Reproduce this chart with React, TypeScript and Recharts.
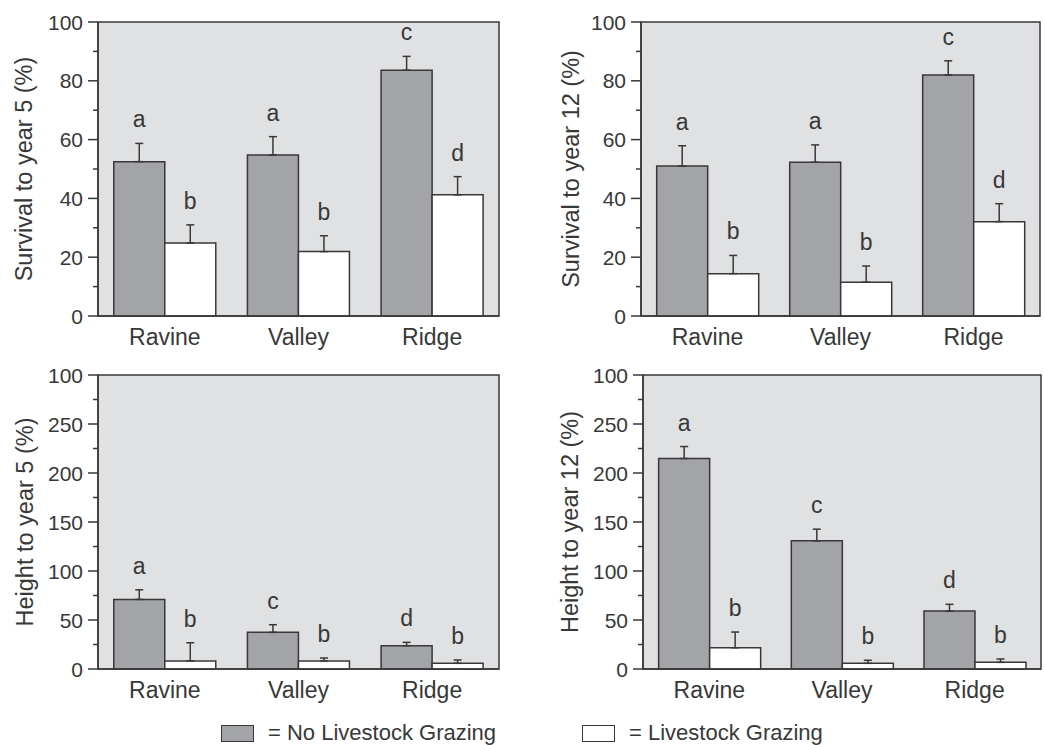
import {
  BarChart,
  Bar,
  XAxis,
  YAxis,
  ErrorBar,
  LabelList,
  CartesianGrid,
  ReferenceArea,
} from "recharts";

const FONT = '"Liberation Sans", Arial, Helvetica, sans-serif';
const INK = "#383838";
const BAR_GRAY = "#a3a4a7";
const PLOT_BG = "#e0e1e3";

const sites = ["Ravine", "Valley", "Ridge"];

// survival to year 5
const surv5NoGraze = [52.5, 54.8, 83.6];
const surv5NoGrazeErr = [6.2, 6.2, 4.7];
const surv5Graze = [24.8, 21.9, 41.2];
const surv5GrazeErr = [6.2, 5.4, 6.2];
const surv5NoGrazeLetters = ["a", "a", "c"];
const surv5GrazeLetters = ["b", "b", "d"];

// survival to year 12
const surv12NoGraze = [51.0, 52.3, 82.0];
const surv12NoGrazeErr = [6.9, 5.9, 4.8];
const surv12Graze = [14.4, 11.5, 32.1];
const surv12GrazeErr = [6.2, 5.5, 6.1];
const surv12NoGrazeLetters = ["a", "a", "c"];
const surv12GrazeLetters = ["b", "b", "d"];

// height to year 5
const height5NoGraze = [71.0, 37.4, 23.8];
const height5NoGrazeErr = [9.8, 7.8, 3.4];
const height5Graze = [8.2, 8.2, 5.8];
const height5GrazeErr = [18.6, 3.0, 3.4];
const height5NoGrazeLetters = ["a", "c", "d"];
const height5GrazeLetters = ["b", "b", "b"];

// height to year 12
const height12NoGraze = [214.8, 130.8, 59.1];
const height12NoGrazeErr = [12.2, 11.9, 6.9];
const height12Graze = [21.7, 5.8, 6.8];
const height12GrazeErr = [16.0, 3.1, 3.4];
const height12NoGrazeLetters = ["a", "c", "d"];
const height12GrazeLetters = ["b", "b", "b"];

const survivalTicks = [0, 10, 20, 30, 40, 50, 60, 70, 80, 90, 100];
const survivalTickLabels = ["0", "", "20", "", "40", "", "60", "", "80", "", "100"];
const heightTicks = [0, 25, 50, 75, 100, 125, 150, 175, 200, 225, 250, 275, 300];
const heightTickLabels = ["0", "", "50", "", "100", "", "150", "", "200", "", "250", "", "100"];

const buildRows = (noGraze: number[], noGrazeErr: number[], graze: number[], grazeErr: number[]) =>
  sites.map((site, i) => ({
    site,
    noGraze: noGraze[i],
    noGrazeErr: [0, noGrazeErr[i]],
    graze: graze[i],
    grazeErr: [0, grazeErr[i]],
  }));

const makeLetter = (letters: string[], errs: number[]) => (props: any) => {
  const { x, y, width, height, value, index } = props;
  if (!value) return null;
  const pxPerUnit = height / value;
  const top = y - errs[index] * pxPerUnit;
  return (
    <text
      x={x + width / 2}
      y={top - 16}
      textAnchor="middle"
      fontSize={23}
      fill={INK}
      fontFamily={FONT}
    >
      {letters[index]}
    </text>
  );
};

const makeYTick = (ticks: number[], labels: string[]) => (props: any) => {
  const { x, y, payload } = props;
  const i = ticks.indexOf(payload.value);
  const label = labels[i];
  const axisX = x + 15;
  const major = label !== "";
  return (
    <g>
      <line
        x1={axisX - (major ? 10 : 5)}
        x2={axisX}
        y1={y}
        y2={y}
        stroke={INK}
        strokeWidth={1.5}
      />
      {major && (
        <text
          x={x}
          y={y}
          textAnchor="end"
          dominantBaseline="central"
          fontSize={21}
          fill={INK}
          fontFamily={FONT}
        >
          {label}
        </text>
      )}
    </g>
  );
};

const YTitle = (props: any) => {
  const { viewBox, text } = props;
  const cx = viewBox.x;
  const cy = viewBox.y + viewBox.height / 2;
  return (
    <text
      x={cx}
      y={cy}
      transform={`rotate(-90, ${cx}, ${cy})`}
      textAnchor="middle"
      dominantBaseline="central"
      fontSize={23.5}
      fill={INK}
      fontFamily={FONT}
    >
      {text}
    </text>
  );
};

interface PanelProps {
  left: number;
  top: number;
  width: number;
  height: number;
  margin: { top: number; right: number; bottom: number; left: number };
  yWidth: number;
  title: string;
  yMax: number;
  ticks: number[];
  tickLabels: string[];
  rows: any[];
  noGrazeErr: number[];
  grazeErr: number[];
  noGrazeLetters: string[];
  grazeLetters: string[];
}

function Panel(p: PanelProps) {
  return (
    <div style={{ position: "absolute", left: p.left, top: p.top }}>
      <BarChart
        width={p.width}
        height={p.height}
        data={p.rows}
        margin={p.margin}
        barCategoryGap="11.8%"
        barGap={0}
      >
        <CartesianGrid horizontal={false} vertical={false} fill={PLOT_BG} stroke="none" />
        <XAxis
          dataKey="site"
          height={30}
          tickLine={false}
          tickSize={0}
          tickMargin={13}
          axisLine={{ stroke: INK, strokeWidth: 1.5 }}
          tick={{ fontSize: 23, fill: INK, fontFamily: FONT }}
        />
        <YAxis
          width={p.yWidth}
          domain={[0, p.yMax]}
          ticks={p.ticks}
          interval={0}
          tickLine={false}
          tickSize={10}
          tickMargin={5}
          axisLine={{ stroke: INK, strokeWidth: 1.5 }}
          tick={makeYTick(p.ticks, p.tickLabels)}
          label={<YTitle text={p.title} />}
        />
        <ReferenceArea
          y1={0}
          y2={p.yMax}
          fill="none"
          stroke={INK}
          strokeWidth={1.5}
          ifOverflow="visible"
        />
        <Bar
          dataKey="noGraze"
          fill={BAR_GRAY}
          stroke={INK}
          strokeWidth={1.5}
          isAnimationActive={false}
        >
          <ErrorBar dataKey="noGrazeErr" width={4} stroke={INK} strokeWidth={1.5} />
          <LabelList dataKey="noGraze" content={makeLetter(p.noGrazeLetters, p.noGrazeErr)} />
        </Bar>
        <Bar
          dataKey="graze"
          fill="#ffffff"
          stroke={INK}
          strokeWidth={1.5}
          isAnimationActive={false}
        >
          <ErrorBar dataKey="grazeErr" width={4} stroke={INK} strokeWidth={1.5} />
          <LabelList dataKey="graze" content={makeLetter(p.grazeLetters, p.grazeErr)} />
        </Bar>
      </BarChart>
    </div>
  );
}

function LegendItem({ left, fill, text }: { left: number; fill: string; text: string }) {
  return (
    <div
      style={{
        position: "absolute",
        left,
        top: 720,
        display: "flex",
        alignItems: "center",
        fontFamily: FONT,
        fontSize: 22,
        color: INK,
        whiteSpace: "nowrap",
      }}
    >
      <div
        style={{
          width: 31,
          height: 15,
          background: fill,
          border: `1.5px solid ${INK}`,
          marginRight: 14,
        }}
      />
      <span>{text}</span>
    </div>
  );
}

export default function App() {
  return (
    <div
      style={{
        position: "absolute",
        left: 0,
        top: 0,
        width: 1045,
        height: 745,
        background: "#ffffff",
        overflow: "hidden",
      }}
    >
      <Panel
        left={0}
        top={0}
        width={520}
        height={360}
        margin={{ top: 22, right: 21, bottom: 14, left: 24 }}
        yWidth={74}
        title="Survival to year 5 (%)"
        yMax={100}
        ticks={survivalTicks}
        tickLabels={survivalTickLabels}
        rows={buildRows(surv5NoGraze, surv5NoGrazeErr, surv5Graze, surv5GrazeErr)}
        noGrazeErr={surv5NoGrazeErr}
        grazeErr={surv5GrazeErr}
        noGrazeLetters={surv5NoGrazeLetters}
        grazeLetters={surv5GrazeLetters}
      />
      <Panel
        left={520}
        top={0}
        width={525}
        height={360}
        margin={{ top: 22, right: 5, bottom: 14, left: 51 }}
        yWidth={70}
        title="Survival to year 12 (%)"
        yMax={100}
        ticks={survivalTicks}
        tickLabels={survivalTickLabels}
        rows={buildRows(surv12NoGraze, surv12NoGrazeErr, surv12Graze, surv12GrazeErr)}
        noGrazeErr={surv12NoGrazeErr}
        grazeErr={surv12GrazeErr}
        noGrazeLetters={surv12NoGrazeLetters}
        grazeLetters={surv12GrazeLetters}
      />
      <Panel
        left={0}
        top={360}
        width={520}
        height={385}
        margin={{ top: 15, right: 21, bottom: 46, left: 25 }}
        yWidth={73}
        title="Height to year 5 (%)"
        yMax={300}
        ticks={heightTicks}
        tickLabels={heightTickLabels}
        rows={buildRows(height5NoGraze, height5NoGrazeErr, height5Graze, height5GrazeErr)}
        noGrazeErr={height5NoGrazeErr}
        grazeErr={height5GrazeErr}
        noGrazeLetters={height5NoGrazeLetters}
        grazeLetters={height5GrazeLetters}
      />
      <Panel
        left={520}
        top={360}
        width={525}
        height={385}
        margin={{ top: 15, right: 4, bottom: 46, left: 50 }}
        yWidth={73}
        title="Height to year 12 (%)"
        yMax={300}
        ticks={heightTicks}
        tickLabels={heightTickLabels}
        rows={buildRows(height12NoGraze, height12NoGrazeErr, height12Graze, height12GrazeErr)}
        noGrazeErr={height12NoGrazeErr}
        grazeErr={height12GrazeErr}
        noGrazeLetters={height12NoGrazeLetters}
        grazeLetters={height12GrazeLetters}
      />
      <LegendItem left={221} fill={BAR_GRAY} text="= No Livestock Grazing" />
      <LegendItem left={582} fill="#ffffff" text="= Livestock Grazing" />
    </div>
  );
}
